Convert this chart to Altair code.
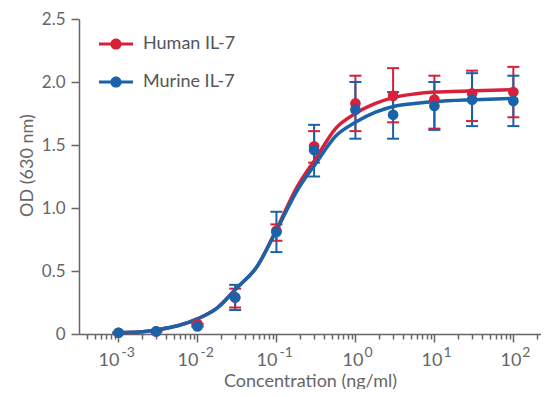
import altair as alt
import pandas as pd

# ---------------- data ----------------
series_names = ["Human IL-7", "Murine IL-7"]
colors = ["#d7213b", "#1a63a8"]

conc = [0.001, 0.003, 0.01, 0.03, 0.1, 0.3, 1, 3, 10, 30, 100]
human_od = [0.01, 0.02, 0.08, 0.29, 0.82, 1.49, 1.83, 1.89, 1.86, 1.91, 1.92]
human_lo = [0.01, 0.02, 0.08, 0.21, 0.74, 1.36, 1.61, 1.68, 1.63, 1.69, 1.72]
human_hi = [0.01, 0.02, 0.08, 0.36, 0.87, 1.61, 2.05, 2.11, 2.05, 2.09, 2.12]
murine_od = [0.01, 0.02, 0.06, 0.29, 0.81, 1.46, 1.78, 1.74, 1.81, 1.86, 1.85]
murine_lo = [0.01, 0.02, 0.06, 0.19, 0.65, 1.25, 1.55, 1.55, 1.62, 1.65, 1.65]
murine_hi = [0.01, 0.02, 0.06, 0.39, 0.97, 1.66, 2.00, 1.92, 2.00, 2.07, 2.05]

fit_conc = [0.001, 0.0018, 0.0032, 0.0056, 0.01, 0.018, 0.032, 0.056, 0.1,
            0.18, 0.32, 0.56, 1, 1.8, 3.2, 5.6, 10, 32, 100]
human_fit = [0.01, 0.015, 0.035, 0.065, 0.12, 0.21, 0.37, 0.53, 0.83,
             1.16, 1.40, 1.63, 1.75, 1.83, 1.88, 1.905, 1.92, 1.93, 1.94]
murine_fit = [0.01, 0.015, 0.035, 0.065, 0.12, 0.21, 0.37, 0.53, 0.82,
              1.13, 1.36, 1.57, 1.68, 1.76, 1.81, 1.83, 1.845, 1.86, 1.87]

decades = [0.001, 0.01, 0.1, 1, 10, 100]
exponents = ["-3", "-2", "-1", "0", "1", "2"]
y_ticks = [0, 0.5, 1.0, 1.5, 2.0, 2.5]
X_MIN, X_MAX = 10 ** -3.5, 10 ** 2.35
x_ticks = [m * 10.0 ** e for e in range(-4, 3) for m in range(1, 10)]
x_ticks = [t for t in x_ticks if X_MIN <= t <= X_MAX]

# ---------------- tables ----------------
pts = pd.DataFrame({
    "conc": conc * 2,
    "od": human_od + murine_od,
    "lo": human_lo + murine_lo,
    "hi": human_hi + murine_hi,
    "series": [series_names[0]] * len(conc) + [series_names[1]] * len(conc),
})
fit = pd.DataFrame({
    "conc": fit_conc * 2,
    "od": human_fit + murine_fit,
    "series": [series_names[0]] * len(fit_conc) + [series_names[1]] * len(fit_conc),
})
lab = pd.DataFrame({"conc": decades, "exp": exponents, "base": ["10"] * len(decades)})

W, H = 462, 315
FONT = "Lato"
GRAY = "#666666"

xscale = alt.Scale(type="log", domain=[X_MIN, X_MAX], nice=False)
yscale = alt.Scale(domain=[0, 2.5], nice=False)
cscale = alt.Scale(domain=series_names, range=colors)

x_enc = alt.X("conc:Q", scale=xscale, axis=alt.Axis(
    values=x_ticks, labels=False, grid=False, title="Concentration (ng/ml)",
    titleFont=FONT, titleFontSize=18, titleFontWeight="normal", titleColor=GRAY,
    titleY=52, titleBaseline="alphabetic",
    tickColor=GRAY, domainColor=GRAY, domainWidth=1.5, tickWidth=1.5,
    tickSize={"condition": {"test": "abs(log(datum.value)/LN10 - round(log(datum.value)/LN10)) < 0.001", "value": 8}, "value": 5},
))
y_enc = alt.Y("od:Q", scale=yscale, axis=alt.Axis(
    values=y_ticks, grid=False, title="OD (630 nm)",
    labelExpr="datum.value == 0 ? '0' : format(datum.value, '.1f')",
    labelFont=FONT, labelFontSize=17, labelColor=GRAY, labelPadding=6,
    titleFont=FONT, titleFontSize=18, titleFontWeight="normal", titleColor=GRAY,
    titleX=-47, titleY=146, titleAlign="center", titleBaseline="alphabetic", titleAngle=-90,
    tickColor=GRAY, domainColor=GRAY, domainWidth=1.5, tickWidth=1.5, tickSize=8,
))

LEG_PATH = ("M-1,-0.09L1,-0.09L1,0.09L-1,0.09Z "
            "M0.33,0A0.33,0.33,0,1,1,-0.33,0A0.33,0.33,0,1,1,0.33,0Z")

color_enc = alt.Color("series:N", scale=cscale, legend=alt.Legend(
    title=None, orient="none", legendX=20, legendY=8,
    symbolType=LEG_PATH, symbolSize=1156, symbolStrokeWidth=0, symbolOpacity=1,
    labelFont=FONT, labelFontSize=18, labelColor="#555555", labelOffset=10,
    rowPadding=12,
))
color_plain = alt.Color("series:N", scale=cscale)

base_pts = alt.Chart(pts)

points = base_pts.mark_point(filled=True, shape="circle", size=115, opacity=1).encode(
    x="conc:Q", y="od:Q", color=color_enc, order=alt.Order("series:N"),
)

err_rule = base_pts.mark_rule(strokeWidth=2, opacity=1).encode(
    x=x_enc, y=alt.Y("lo:Q", scale=yscale), y2="hi:Q", color=color_plain,
)
cap_lo = base_pts.mark_tick(orient="horizontal", thickness=2, size=12, opacity=1).encode(
    x="conc:Q", y=alt.Y("lo:Q", scale=yscale), color=color_plain,
)
cap_hi = base_pts.mark_tick(orient="horizontal", thickness=2, size=12, opacity=1).encode(
    x="conc:Q", y=alt.Y("hi:Q", scale=yscale), color=color_plain,
)

lines = alt.Chart(fit).mark_line(strokeWidth=3.5, interpolate="monotone", opacity=1).encode(
    x="conc:Q", y=y_enc, color=color_plain, detail="series:N",
)

neg = lab[lab["exp"].str.startswith("-")]
pos = lab[~lab["exp"].str.startswith("-")]


def label_layers(df, dx_base, dx_exp):
    b = alt.Chart(df).mark_text(align="right", baseline="alphabetic", font=FONT,
                                fontSize=18, color=GRAY, dx=dx_base).encode(
        x=alt.X("conc:Q", scale=xscale), y=alt.value(347), text="base:N")
    e = alt.Chart(df).mark_text(align="left", baseline="alphabetic", font=FONT,
                                fontSize=14, color=GRAY, dx=dx_exp).encode(
        x=alt.X("conc:Q", scale=xscale), y=alt.value(338), text="exp:N")
    return b + e


chart = alt.layer(
    err_rule, cap_lo, cap_hi, lines, points,
    label_layers(neg, 1, 3), label_layers(pos, 8, 9),
).properties(
    width=W, height=H,
    autosize=alt.AutoSizeParams(type="none"),
    padding={"left": 71, "top": 11, "right": 0, "bottom": 55},
).configure_view(stroke=None)

chart.save("out.html", embed_options={"renderer": "svg", "actions": False})
